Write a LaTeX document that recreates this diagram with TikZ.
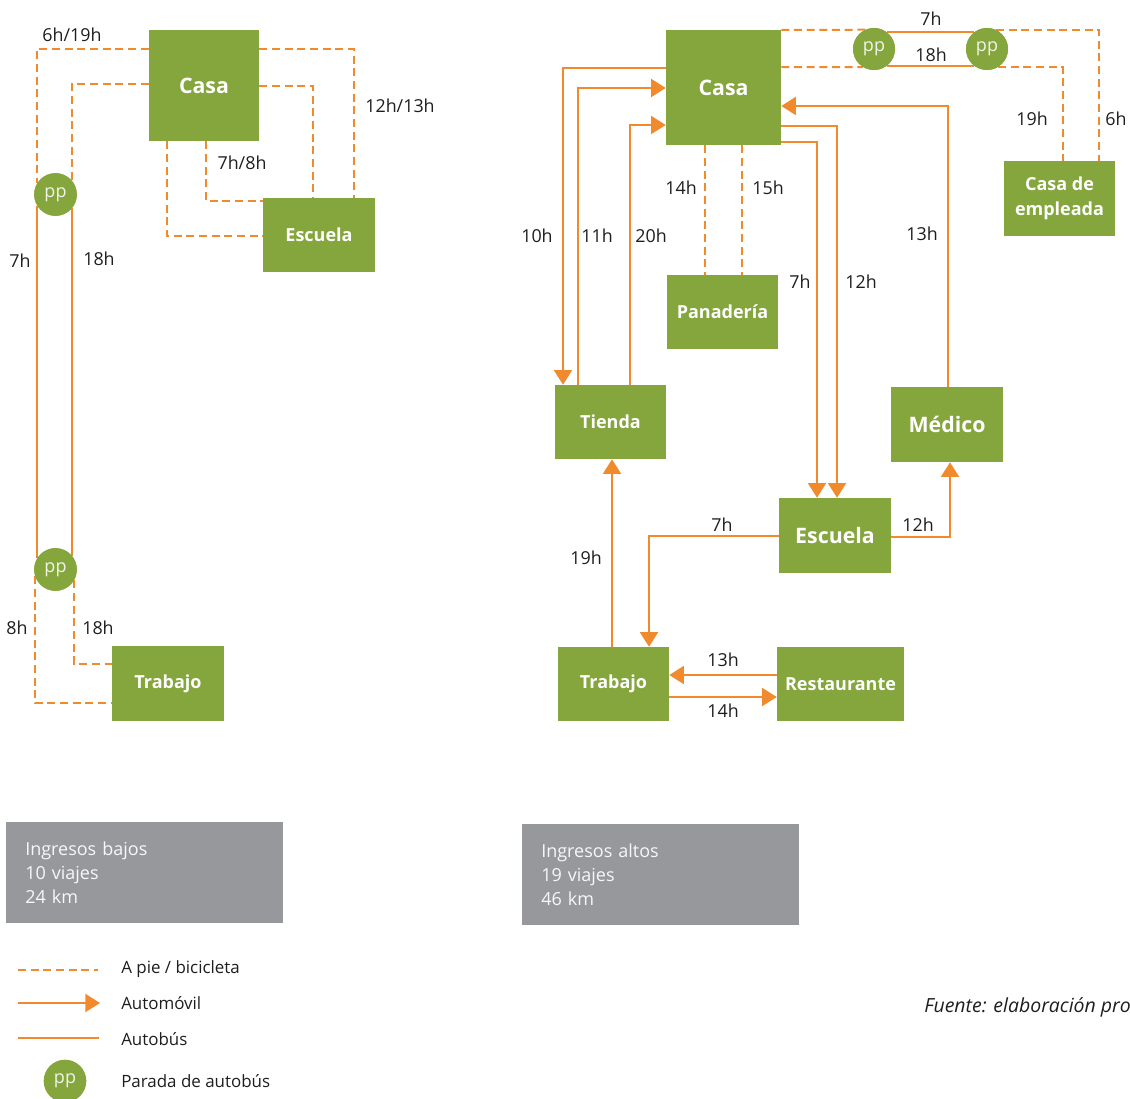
\documentclass[tikz,border=0pt]{standalone}
\usepackage{fontspec}
\setmainfont{Open Sans}
\usetikzlibrary{arrows.meta}
\definecolor{grn}{HTML}{85A53D}
\definecolor{org}{HTML}{F08A2C}
\definecolor{gry}{HTML}{97989C}
\definecolor{txt}{HTML}{1E1E1E}
\newcommand{\ppt}{\raisebox{-1.6pt}{pp}}
\tikzset{
 place/.style={fill=grn, text=white, font=\bfseries\fontsize{13.5}{18.75}\selectfont, inner sep=0pt, minimum width=83.25pt, minimum height=55.5pt, align=center},
 bigplace/.style={place, font=\bfseries\fontsize{16}{18}\selectfont},
 ppstop/.style={circle, fill=grn, text=white!88!grn, minimum size=32pt, inner sep=0pt, font=\fontsize{13.5}{14}\selectfont},
 walk/.style={draw=org, line width=1.5pt, dash pattern=on 6pt off 3.5pt},
 car/.style={draw=org, line width=1.5pt, -{Triangle[length=11pt,width=13.5pt]}},
 bus/.style={draw=org, line width=1.5pt},
 lbl/.style={text=txt, font=\fontsize{13.4}{15}\selectfont, inner sep=0pt},
 grybox/.style={fill=gry, text=white!92!gry, anchor=north west, minimum width=207.75pt, minimum height=75.75pt, text width=179.25pt, inner xsep=14.25pt, inner ysep=0pt, align=left, font=\fontsize{13.5}{18}\selectfont},
 leg/.style={text=txt, font=\fontsize{12.7}{14}\selectfont, anchor=west, inner sep=0pt},
}
\begin{document}
\begin{tikzpicture}[x=0.75pt,y=-0.75pt]
\useasboundingbox (0,0) rectangle (1130,1098);

% ---------- left diagram: nodes ----------
\node[bigplace, minimum width=82.5pt, minimum height=83.25pt] (LCasa) at (204,85.5) {Casa};
\node[place, minimum width=84pt] (LEsc) at (319,235) {Escuela};
\node[place, minimum width=84pt, minimum height=56.25pt] (LTrab) at (168,683.5) {Trabajo};
\path (55.5,194.5) node[ppstop] (Lpp1) {};
\path (55.5,569.5) node[ppstop] (Lpp2) {};

% left connectors
\draw[walk] (LCasa.west |- 0,49) -| (Lpp1.149);
\draw[walk] (LCasa.west |- 0,84) -| (Lpp1.40);
\draw[walk] (LCasa.east |- 0,49) -| (LEsc.north -| 354,0);
\draw[walk] (LCasa.east |- 0,86) -| (LEsc.north -| 313,0);
\draw[walk] (LCasa.south -| 167,0) |- (LEsc.west |- 0,236);
\draw[walk] (LCasa.south -| 206,0) |- (LEsc.west |- 0,201);
\draw[bus] (Lpp1.211) -- (Lpp2.149);
\draw[bus] (Lpp1.320) -- (Lpp2.40);
\draw[walk] (Lpp2.198) |- (LTrab.west |- 0,703);
\draw[walk] (Lpp2.330) |- (LTrab.west |- 0,664);

% redraw stops on top
\node[ppstop] at (Lpp1) {\ppt};
\node[ppstop] at (Lpp2) {\ppt};

% left labels
\node[lbl] at (72,35) {6h/19h};
\node[lbl] at (400,106) {12h/13h};
\node[lbl] at (242,163) {7h/8h};
\node[lbl] at (20,261) {7h};
\node[lbl] at (99,259) {18h};
\node[lbl] at (17,628) {8h};
\node[lbl] at (98,628) {18h};

% ---------- right diagram: nodes ----------
\node[bigplace, minimum width=86.25pt, minimum height=86.25pt] (RCasa) at (723.5,87.5) {Casa};
\path (874,49) node[ppstop, minimum size=31.5pt] (Rpp1) {};
\path (987,49) node[ppstop, minimum size=31.5pt] (Rpp2) {};
\node[place] (CasaEmp) at (1059.5,198.5) {Casa de\\empleada};
\node[place] (Tienda) at (610.5,422) {Tienda};
\node[place] (Panad) at (722.5,312) {Panadería};
\node[bigplace, minimum width=84pt, minimum height=56.25pt] (Medico) at (947,424.5) {Médico};
\node[bigplace, minimum width=84pt, minimum height=56.25pt] (REsc) at (835,535.5) {Escuela};
\node[place] (RTrab) at (613.5,684) {Trabajo};
\node[place, minimum width=95.25pt] (Rest) at (840.5,684) {Restaurante};

% right connectors
\draw[walk] (RCasa.east |- 0,30) -- (Rpp1.115);
\draw[walk] (RCasa.east |- 0,67) -- (Rpp1.239);
\draw[bus] (Rpp1.51) -- (Rpp2.129);
\draw[bus] (Rpp1.309) -- (Rpp2.231);
\draw[walk] (Rpp2.65) -| (CasaEmp.north -| 1099,0);
\draw[walk] (Rpp2.301) -| (CasaEmp.north -| 1063,0);
\node[ppstop, minimum size=31.5pt] at (Rpp1) {\ppt};
\node[ppstop, minimum size=31.5pt] at (Rpp2) {\ppt};

\draw[car] (RCasa.west |- 0,68) -| (Tienda.north -| 563,0);
\draw[car] (Tienda.north -| 578,0) |- (RCasa.west |- 0,88);
\draw[car] (Tienda.north -| 630,0) |- (RCasa.west |- 0,125);
\draw[walk] (RCasa.south -| 705,0) -- (Panad.north -| 705,0);
\draw[walk] (RCasa.south -| 742,0) -- (Panad.north -| 742,0);
\draw[car] (RCasa.east |- 0,142) -| (REsc.north -| 817,0);
\draw[car] (RCasa.east |- 0,126) -| (REsc.north -| 837,0);
\draw[car] (Medico.north -| 948,0) |- (RCasa.east |- 0,106);
\draw[car] (REsc.east |- 0,537) -| (Medico.south -| 950,0);
\draw[car] (REsc.west |- 0,536) -| (RTrab.north -| 649,0);
\draw[car] (RTrab.north -| 612,0) -- (Tienda.south -| 612,0);
\draw[car] (Rest.west |- 0,675) -- (RTrab.east |- 0,675);
\draw[car] (RTrab.east |- 0,697) -- (Rest.west |- 0,697);

% right labels
\node[lbl] at (931,19) {7h};
\node[lbl] at (931,55) {18h};
\node[lbl] at (1032,119) {19h};
\node[lbl] at (1116,119) {6h};
\node[lbl] at (537,236) {10h};
\node[lbl] at (597,236) {11h};
\node[lbl] at (651,236) {20h};
\node[lbl] at (681,188) {14h};
\node[lbl] at (768,188) {15h};
\node[lbl] at (800,282) {7h};
\node[lbl] at (861,282) {12h};
\node[lbl] at (922,234) {13h};
\node[lbl] at (722,525) {7h};
\node[lbl] at (918,525) {12h};
\node[lbl] at (586,558) {19h};
\node[lbl] at (723,660) {13h};
\node[lbl] at (723,711) {14h};

% ---------- summary boxes ----------
\node[grybox] (G1) at (6,822) {Ingresos bajos\\10 viajes\\24 km};
\node[grybox] (G2) at (522,824) {Ingresos altos\\19 viajes\\46 km};

% ---------- legend ----------
\coordinate (la1) at (18,970); \coordinate (lb1) at (98,970);
\coordinate (la2) at (18,1003); \coordinate (lb2) at (100,1003);
\coordinate (la3) at (18,1038); \coordinate (lb3) at (99,1038);
\draw[walk] (la1) -- (lb1);
\draw[car] (la2) -- (lb2);
\draw[bus] (la3) -- (lb3);
\node[ppstop] (Lgpp) at (65,1081) {\ppt};
\node[leg] (t1) at (121,969) {A pie / bicicleta};
\node[leg] (t2) at (121,1003) {Automóvil};
\node[leg] (t3) at (121,1039) {Autobús};
\node[leg] (t4) at (121,1081) {Parada de autobús};

% ---------- source (as far as the reference shows it) ----------
\node[text=txt, anchor=west, inner sep=0pt, font=\itshape\fontsize{14.6}{16}\selectfont] (src) at (924,1007) {Fuente: elaboración pro};
\end{tikzpicture}
\end{document}
